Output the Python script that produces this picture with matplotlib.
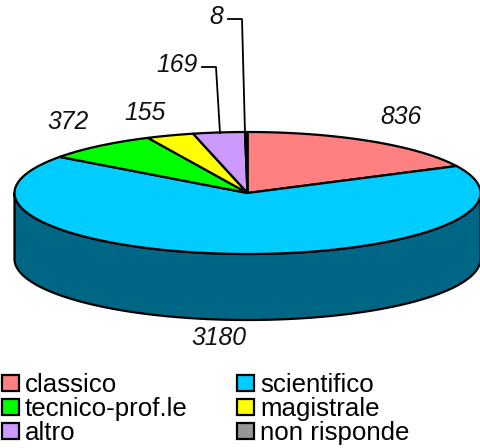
import numpy as np
import matplotlib
matplotlib.use('Agg')
import matplotlib.pyplot as plt
from matplotlib.patches import Polygon, Rectangle

categories = ['classico', 'scientifico', 'tecnico-prof.le', 'magistrale', 'altro', 'non risponde']
values = [836, 3180, 372, 155, 169, 8]
colors = ['#FF8080', '#00CCFF', '#00FF00', '#FFFF00', '#CC99FF', '#969696']
side_color = '#006685'

plt.rcParams['font.family'] = ['Liberation Sans', 'DejaVu Sans']

# pie geometry in pixels
cx, cy = 247.5, 193
rx, ry = 233, 61
depth = 66
lw = 1.6


def rim(a0, a1):
    # angles in radians, clockwise from the top
    t = np.linspace(a0, a1, 200)
    return np.column_stack((cx + rx * np.sin(t), cy - ry * np.cos(t)))


fig = plt.figure(figsize=(4.81, 4.48), dpi=100)
ax = fig.add_axes([0, 0, 1, 1])
ax.set_xlim(0, 481)
ax.set_ylim(448, 0)
ax.axis('off')

# side wall, front half of the ellipse
front = rim(np.pi / 2, 3 * np.pi / 2)
wall = np.vstack((front, (front + [0, depth])[::-1]))
ax.add_patch(Polygon(wall, closed=True, fc=side_color, ec='black', lw=lw, joinstyle='round'))

# top slices
edges = np.concatenate(([0], np.cumsum(values))) / sum(values) * 2 * np.pi
for i in range(len(values)):
    pts = np.vstack(([cx, cy], rim(edges[i], edges[i + 1])))
    ax.add_patch(Polygon(pts, closed=True, fc=colors[i], ec='black', lw=lw, joinstyle='round'))

# value labels
label_x = [401, 219, 68, 145, 177, 216]
label_y = [117, 338, 122, 113, 65, 17]
for i in range(len(values)):
    ax.text(label_x[i], label_y[i], str(values[i]), fontsize=17.8, style='italic',
            ha='center', va='center', color='#111111')

# leader lines
ax.plot([202, 216, 220], [67, 67, 133], color='black', lw=1.3)
ax.plot([228, 242, 245], [19, 19, 133], color='black', lw=1.3)

# legend
legend_x = [2, 237]
legend_y = [392, 416, 440]
for i in range(len(categories)):
    x = legend_x[i % 2]
    y = legend_y[i // 2]
    ax.add_patch(Rectangle((x + 0.5, y - 17), 16.5, 16.5, fc=colors[i], ec='black', lw=lw))
    ax.text(x + 23, y, categories[i], fontsize=18.6, ha='left', va='baseline', color='black')

fig.savefig('out.png', dpi=100)
